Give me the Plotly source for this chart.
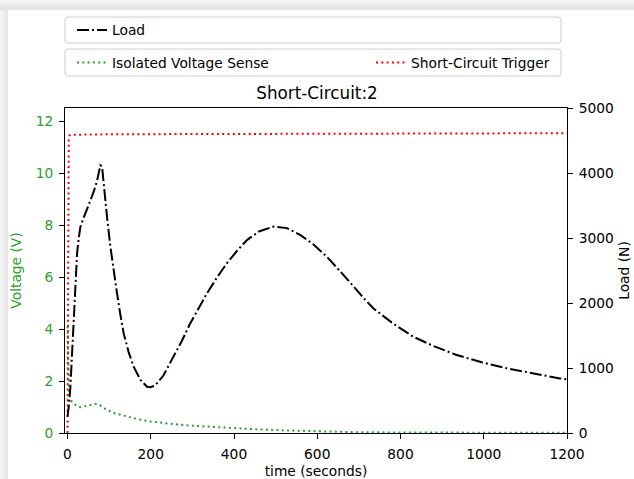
import plotly.graph_objects as go

# ---------------- data ----------------
t_load = [0, 3, 7, 11, 15, 19, 23, 27, 31, 37, 43, 53, 63, 71, 79, 83, 88, 95, 103, 111,
          119, 127, 135, 147, 159, 175, 191, 199, 210, 230, 255, 275, 295, 315, 335, 360,
          383, 407, 431, 460, 495, 527, 559, 591, 623, 655, 687, 711, 735, 783, 831, 883,
          935, 995, 1055, 1120, 1183, 1200]
load_N = [252, 400, 712, 1200, 1740, 2280, 2760, 3000, 3172, 3280, 3380, 3540, 3712, 3880,
          4120, 4100, 3720, 3320, 2868, 2480, 2148, 1820, 1532, 1240, 1020, 820, 712, 704,
          728, 880, 1172, 1420, 1688, 1928, 2148, 2400, 2612, 2800, 2968, 3100, 3176, 3152,
          3048, 2900, 2712, 2488, 2252, 2080, 1916, 1680, 1480, 1328, 1200, 1088, 996, 912,
          840, 824]

t_volt = [0, 1, 2, 4, 7, 11, 20, 31, 45, 57, 67, 80, 95, 115, 143, 170, 199, 230, 263,
          300, 343, 400, 455, 520, 600, 700, 800, 900, 1000, 1100, 1200]
volt_V = [4.1, 3.0, 2.0, 1.5, 1.3, 1.2, 1.07, 0.99, 1.04, 1.1, 1.12, 1.05, 0.88, 0.75, 0.63,
          0.53, 0.44, 0.38, 0.33, 0.28, 0.24, 0.18, 0.14, 0.10, 0.06, 0.03, 0.02, 0.01, 0.01,
          0.005, 0.005]

t_trig = [0, 1, 2, 3, 5, 10, 100, 300, 600, 900, 1200]
trig_V = [0, 3, 8, 11.3, 11.45, 11.47, 11.49, 11.5, 11.51, 11.52, 11.53]

x_ticks = [0, 200, 400, 600, 800, 1000, 1200]
v_ticks = [0, 2, 4, 6, 8, 10, 12]
n_ticks = [0, 1000, 2000, 3000, 4000, 5000]

# ---------------- layout helpers ----------------
W, H = 634, 479
PL, PR, PT, PB = 65, 567, 108, 433
FONT = "DejaVu Sans"
GREEN = "#2ca02c"
FS = 13.8


def xp(px):
    return (px - PL) / (PR - PL)


def yp(py):
    return (PB - py) / (PB - PT)


def rounded_box(x0, y0, x1, y1, r=3):
    rx = r / (PR - PL)
    ry = r / (PB - PT)
    a0, a1 = xp(x0), xp(x1)
    b0, b1 = yp(y1), yp(y0)  # bottom, top in paper
    return (f"M{a0+rx},{b0} L{a1-rx},{b0} Q{a1},{b0} {a1},{b0+ry} "
            f"L{a1},{b1-ry} Q{a1},{b1} {a1-rx},{b1} L{a0+rx},{b1} "
            f"Q{a0},{b1} {a0},{b1-ry} L{a0},{b0+ry} Q{a0},{b0} {a0+rx},{b0} Z")


fig = go.Figure()

fig.add_trace(go.Scatter(
    x=t_load, y=load_N, name="Load", mode="lines", yaxis="y2",
    line=dict(color="black", width=2, dash="12px,3px,2px,3px"),
    legend="legend"))
fig.add_trace(go.Scatter(
    x=t_volt, y=volt_V, name="Isolated Voltage Sense", mode="lines", yaxis="y",
    line=dict(color=GREEN, width=2, dash="2px,3.3px"),
    legend="legend2"))
fig.add_trace(go.Scatter(
    x=t_trig, y=trig_V, name="Short-Circuit Trigger", mode="lines", yaxis="y",
    line=dict(color="red", width=2, dash="2px,3.3px"),
    legend="legend3"))

shapes = []
# card shadow at left and top
left_cols = ["#f4f4f4", "#efefef", "#eaeaea", "#e6e6e6"]
for i, c in enumerate(left_cols):
    shapes.append(dict(type="rect", xref="paper", yref="paper", layer="below",
                       x0=xp(i * 2), x1=xp(i * 2 + 2), y0=yp(H), y1=yp(10),
                       fillcolor=c, line=dict(width=0)))
top_cols = ["#f5f5f5", "#f0f0f0", "#ebebeb", "#e7e7e7", "#e3e3e3"]
for i, c in enumerate(top_cols):
    shapes.append(dict(type="rect", xref="paper", yref="paper", layer="below",
                       x0=xp(0), x1=xp(W), y0=yp(i * 2 + 2), y1=yp(i * 2),
                       fillcolor=c, line=dict(width=0)))
# legend frames
for (y0, y1) in [(17, 43), (49, 76)]:
    shapes.append(dict(type="path", xref="paper", yref="paper",
                       path=rounded_box(PL, y0, 561, y1),
                       fillcolor="rgba(255,255,255,0.8)",
                       line=dict(color="#cccccc", width=1)))

legend_common = dict(bgcolor="rgba(0,0,0,0)", borderwidth=0,
                      font=dict(family=FONT, size=FS, color="black"),
                      xanchor="left", yanchor="middle", orientation="v")

axis_common = dict(ticks="outside", ticklen=5, tickcolor="black", showline=True,
                   linecolor="black", linewidth=1, showgrid=False, zeroline=False,
                   automargin=False, ticklabelstandoff=3)

fig.update_layout(
    width=W, height=H,
    margin=dict(l=PL, r=W - PR, t=PT, b=H - PB, autoexpand=False),
    paper_bgcolor="white", plot_bgcolor="white",
    font=dict(family=FONT, size=FS, color="black"),
    title=dict(text="Short-Circuit:2", x=xp(317), xref="paper", xanchor="center",
               y=1 - 93 / H, yanchor="middle",
               font=dict(family=FONT, size=16.8, color="black")),
    xaxis=dict(range=[-6, 1200], tickvals=x_ticks, mirror=True,
               tickfont=dict(family=FONT, size=FS, color="black"),
               title=dict(text="time (seconds)", standoff=5,
                          font=dict(family=FONT, size=FS, color="black")),
               **axis_common),
    yaxis=dict(range=[0, 12.5], tickvals=v_ticks,
               tickfont=dict(family=FONT, size=FS, color=GREEN),
               title=dict(text="Voltage (V)", standoff=10,
                          font=dict(family=FONT, size=FS, color=GREEN)),
               **axis_common),
    yaxis2=dict(range=[0, 5000], tickvals=n_ticks, overlaying="y", side="right",
                tickfont=dict(family=FONT, size=FS, color="black"),
                title=dict(text="Load (N)", standoff=6,
                           font=dict(family=FONT, size=FS, color="black")),
                **axis_common),
    legend=dict(x=xp(72), y=yp(30), **legend_common),
    legend2=dict(x=xp(72), y=yp(62.5), **legend_common),
    legend3=dict(x=xp(371), y=yp(62.5), **legend_common),
    shapes=shapes,
    showlegend=True,
)

fig.write_html("out.html")
